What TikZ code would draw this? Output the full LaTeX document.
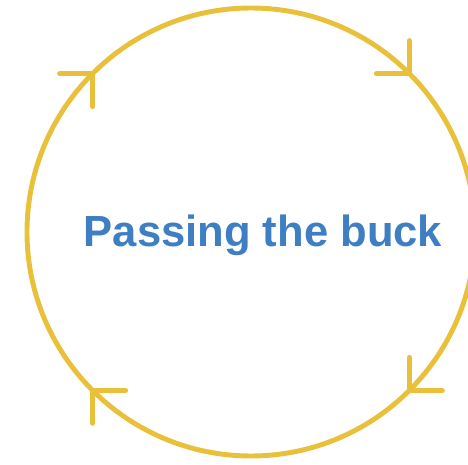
\documentclass[tikz,border=0pt]{standalone}
\usepackage{fontspec}
\setmainfont{Liberation Sans}
\usetikzlibrary{calc}
\definecolor{loopyellow}{RGB}{232,192,58}
\definecolor{buckblue}{RGB}{62,127,195}
\begin{document}
\begin{tikzpicture}[x=0.025cm, y=0.025cm]
    \clip (-251,-233) rectangle (217,232);
    \draw[line width=3.5pt, color=loopyellow] (0,0) circle (224);
    \foreach \a in {135,45,-45,-135} {
        \draw[line width=3.5pt, color=loopyellow, line cap=round, line join=miter]
            ($(\a:224)+(\a+45:33)$) -- (\a:224) -- ($(\a:224)+(\a+135:33)$);
    }
    \node[anchor=base, color=buckblue, font=\bfseries\fontsize{31}{37}\selectfont, inner sep=0pt] (title) at (12,-15) {Passing the buck};
\end{tikzpicture}
\end{document}
